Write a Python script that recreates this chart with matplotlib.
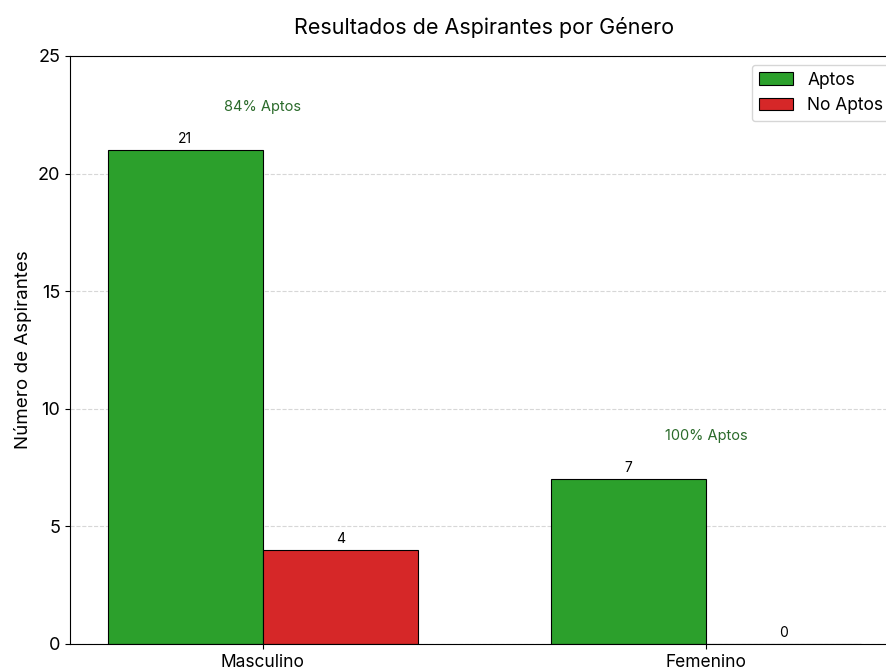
import matplotlib
matplotlib.use('Agg')
import matplotlib.pyplot as plt
import numpy as np

plt.rcParams['font.family'] = ['Inter', 'DejaVu Sans']

# data
generos = ['Masculino', 'Femenino']
aptos = [21, 7]
no_aptos = [4, 0]
porcentajes = ['84% Aptos', '100% Aptos']

fig = plt.figure(figsize=(8.87, 6.71), dpi=100)
# axes extends a bit beyond the right edge (as in the original crop)
ax = fig.add_axes([70 / 887, 27 / 671, 829 / 887, 588 / 671])

x = np.arange(len(generos))
w = 0.35

b1 = ax.bar(x - w / 2, aptos, w, label='Aptos', color='#2ca02c', edgecolor='black', linewidth=0.8)
b2 = ax.bar(x + w / 2, no_aptos, w, label='No Aptos', color='#d62728', edgecolor='black', linewidth=0.8)

for bars in (b1, b2):
    for b in bars:
        h = b.get_height()
        ax.annotate(f'{h}', (b.get_x() + b.get_width() / 2, h), xytext=(0, 3),
                    textcoords='offset points', ha='center', va='bottom', fontsize=10)

for i, txt in enumerate(porcentajes):
    ax.text(x[i], aptos[i] + 1.85, txt, ha='center', va='center', fontsize=10.5, color='#2b6b2b')

ax.set_ylim(0, 25)
ax.set_xticks(x)
ax.set_xticklabels(generos, fontsize=12.5)
ax.tick_params(axis='y', labelsize=13)
ax.set_ylabel('Número de Aspirantes', fontsize=13.5)
ax.set_title('Resultados de Aspirantes por Género', fontsize=15.5, pad=16)
ax.grid(axis='y', linestyle='--', alpha=0.5)
ax.set_axisbelow(True)
ax.legend(loc='upper right', fontsize=12.5)

fig.savefig('out.png', dpi=100)
